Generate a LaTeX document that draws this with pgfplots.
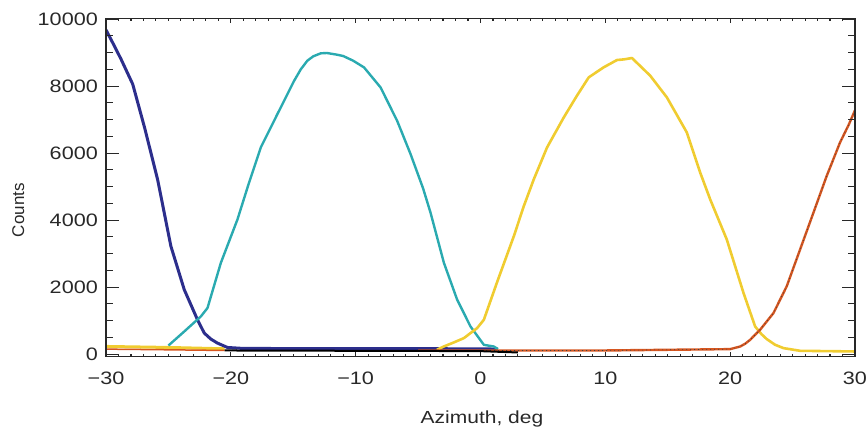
\documentclass[border=0pt]{standalone}
\usepackage{fontspec}
\setmainfont{Liberation Sans}
\newfontfamily\tickfont{Liberation Sans}[FakeStretch=1.2]
\newfontfamily\labfont{Liberation Sans}[FakeStretch=1.2]
\usepackage{pgfplots}
\pgfplotsset{compat=1.18}
\definecolor{cnavy}{RGB}{44,46,140}
\definecolor{ccyan}{RGB}{42,170,176}
\definecolor{cyell}{RGB}{240,204,48}
\definecolor{corng}{RGB}{214,86,32}
\definecolor{axc}{RGB}{40,40,40}

\pgfplotstableread{
x y
-30 9680
-29.4 9250
-28.8 8810
-27.86 8060
-26.9 6750
-25.87 5220
-24.8 3220
-23.73 1925
-22.67 1027
-22.13 630
-21.6 450
-21.07 330
-20.27 200
-19 170
-10 165
0 160
1.4 150
}\navy

\pgfplotstableread{
x y
-25 257
-23.73 677
-22.4 1126
-21.87 1377
-20.8 2725
-19.47 4020
-18.6 5050
-17.6 6170
-16.27 7165
-14.93 8160
-14.4 8500
-13.87 8760
-13.4 8890
-12.8 8980
-12.3 8990
-11.5 8940
-11 8900
-10.2 8760
-9.33 8560
-8 7960
-6.67 6960
-5.6 5970
-4.6 4950
-4 4220
-2.93 2725
-1.87 1626
-0.8 826
0.27 278
1.07 228
1.4 150
}\cyan

\pgfplotstableread{
x y
-3.5 130
-2.93 230
-2.2 340
-1.33 479
-0.27 778
0.27 1027
1.33 2150
2.67 3521
3.47 4420
4.27 5220
5.33 6170
6.67 7066
7.7 7700
8.67 8263
9.87 8563
10.93 8780
11.5 8800
12.13 8840
12.8 8600
13.6 8310
14.93 7665
16.53 6617
17.6 5419
18.4 4620
19.73 3422
21.07 1826
22 826
22.5 600
22.93 450
23.6 280
24.27 180
25.6 100
30 80
}\yell

\pgfplotstableread{
x y
-5 110
10 110
20 150
20.8 228
21.2 310
21.6 428
22.4 728
23.47 1227
24.53 2024
25.6 3122
26.67 4222
27.73 5317
28.8 6317
29.5 6850
30 7280
}\orng

\pgfplotstableread{
x y
-30 230
-25 200
-20.5 160
}\lowyell

\pgfplotstableread{
x y
-30 150
-25 130
-20.5 110
}\loworng

\pgfplotstableread{
x y
-20.5 110
-10 100
-4 95
0 90
3 50
}\blk

\begin{document}
\begin{tikzpicture}[x=1pt,y=1pt]
\path[use as bounding box] (-106,-71.5) rectangle (762,356.5);
\begin{axis}[
  at={(0,0)}, anchor=south west,
  scale only axis, width=749pt, height=338pt,
  xmin=-30, xmax=30, ymin=-70, ymax=10020,
  axis line style={axc, line width=1.3pt},
  every tick/.style={axc, line width=1.1pt},
  tick align=inside,
  xtick={-30,-20,...,30},
  xticklabels={−30,−20,−10,0,10,20,30},
  minor x tick num=9,
  ytick=\empty,
  major tick length=4.5pt, minor tick length=2.5pt,
  xticklabel style={font=\tickfont\fontsize{18}{20}\selectfont, text=axc, inner sep=0pt, anchor=north, yshift=-15pt},
  xlabel={Azimuth, deg},
  xlabel style={font=\labfont\fontsize{17.5}{20}\selectfont, text=axc, at={(axis description cs:0.502,-0.197)}, anchor=base},
  ylabel={Counts},
  ylabel style={font=\fontsize{17}{20}\selectfont, text=axc, at={(axis description cs:-0.117,0.433)}, anchor=center},
  clip=true,
]
\addplot[no markers, cyell, line width=3pt] table {\lowyell};
\addplot[no markers, corng, line width=1.5pt] table {\loworng};
\addplot[no markers, cnavy, line width=3pt, line join=round] table {\navy};
\addplot[no markers, ccyan, line width=2.4pt, line join=round] table {\cyan};
\addplot[no markers, cyell, line width=2.6pt, line join=round] table {\yell};
\addplot[no markers, corng, line width=2.4pt, line join=round] table {\orng};
\addplot[no markers, black!75, line width=0.6pt, dash pattern=on 1pt off 3pt] table {\orng};
\addplot[no markers, black, line width=2pt] table {\blk};
\end{axis}
\begin{axis}[
  at={(0,0)}, anchor=south west,
  scale only axis, width=749pt, height=338pt,
  xmin=-30, xmax=30, ymin=-70, ymax=10020,
  axis line style={axc, line width=1.3pt},
  every tick/.style={axc, line width=1.1pt},
  tick align=inside,
  xtick=\empty,
  ytick={0,2000,4000,6000,8000,10000},
  yticklabels={0,2000,4000,6000,8000,10000},
  scaled y ticks=false,
  minor y tick num=3,
  major tick length=13pt, minor tick length=7pt,
  yticklabel style={font=\tickfont\fontsize{18}{20}\selectfont, text=axc, inner sep=0pt, anchor=east, xshift=-8pt},
]
\end{axis}
\end{tikzpicture}
\end{document}
